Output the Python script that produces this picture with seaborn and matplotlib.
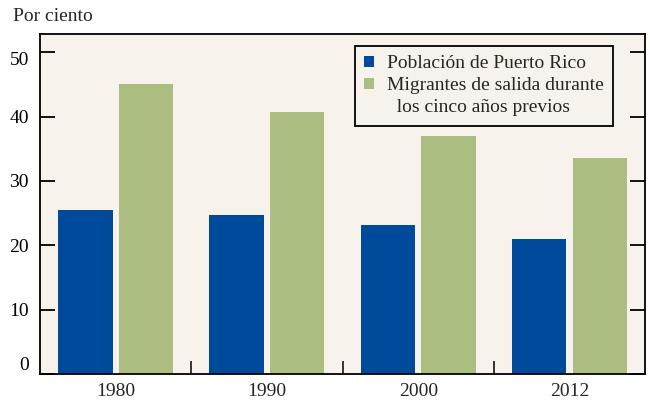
import matplotlib
matplotlib.use("Agg")
import matplotlib.pyplot as plt
from matplotlib.patches import Patch
import pandas as pd
import seaborn as sns

years = ["1980", "1990", "2000", "2012"]
poblacion = [25.5, 24.7, 23.2, 21.0]
migrantes = [45.0, 40.7, 37.0, 33.6]
series_labels = ["Población de Puerto Rico", "Migrantes de salida durante"]
extra_line = "  los cinco años previos"
colors = ["#004a9c", "#acbd82"]

df = pd.DataFrame({
    "year": years * 2,
    "value": poblacion + migrantes,
    "serie": [series_labels[0]] * 4 + [series_labels[1]] * 4,
})

sns.set_theme(style="ticks")
plt.rcParams["font.family"] = ["Liberation Serif", "DejaVu Serif"]

fig = plt.figure(figsize=(6.5, 4), dpi=100)
ax = fig.add_axes([0.0615, 0.064, 0.931, 0.851])
ax.set_facecolor("#f7f2eb")

sns.barplot(data=df, x="year", y="value", hue="serie",
            palette=colors, width=0.8, gap=0.1,
            saturation=1, linewidth=0, edgecolor="none", ax=ax)

ax.set_ylim(0, 52.8)
ax.set_xlim(-0.5, 3.5)
ax.set_yticks([0, 10, 20, 30, 40, 50])
ax.set_xlabel("")
ax.set_ylabel("")

for s in ax.spines.values():
    s.set_linewidth(1.3)
    s.set_color("black")

ax.tick_params(axis="y", direction="in", length=11, width=1.3, labelsize=14,
               right=True, left=True, pad=8, colors="black")
ax.tick_params(axis="x", which="major", length=0, labelsize=14, pad=6)
ax.set_xticks([0.5, 1.5, 2.5], minor=True)
ax.tick_params(axis="x", which="minor", direction="in", length=9.5, width=1.3)

ylabels = ax.get_yticklabels()
ylabels[0].set_va("bottom")
ylabels[-1].set_va("top")

handles = [Patch(facecolor=c, edgecolor="none") for c in colors]
handles.append(Patch(facecolor="none", edgecolor="none"))
leg = ax.legend(handles, series_labels + [extra_line], loc="upper left",
                bbox_to_anchor=(0.52, 0.966), borderaxespad=0,
                fontsize=14, handlelength=0.5, handleheight=0.5,
                handletextpad=0.65, labelspacing=0.25, fancybox=False,
                frameon=True, borderpad=0.5)
leg.get_frame().set_edgecolor("black")
leg.get_frame().set_linewidth(1.3)
leg.get_frame().set_facecolor("#f7f2eb")
leg.get_frame().set_alpha(1)

fig.text(0.02, 0.958, "Por ciento", fontsize=14, va="center", ha="left")

fig.savefig("out.png", dpi=100)
